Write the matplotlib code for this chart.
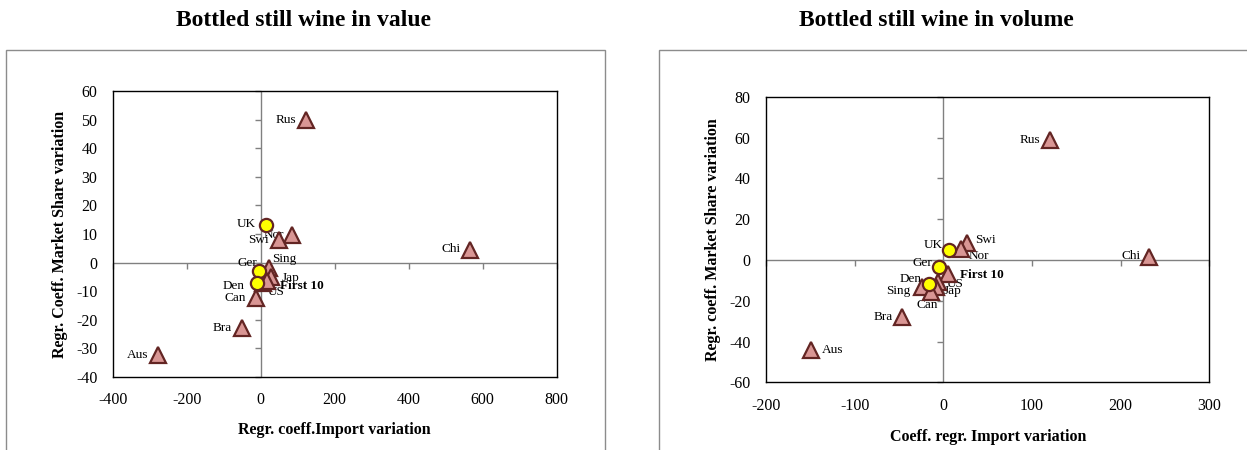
import matplotlib
matplotlib.use("Agg")
import matplotlib.pyplot as plt
import matplotlib.markers as mmarkers
from matplotlib.patches import Rectangle
import numpy as np

plt.rcParams['font.family'] = ['Liberation Serif', 'DejaVu Serif']
plt.rcParams['axes.unicode_minus'] = False

# ---------------- data ----------------
value_countries = ["Rus", "UK", "Nor", "Swi", "Chi", "Sing", "Ger", "Jap",
                   "First 10", "Den", "US", "Can", "Bra", "Aus"]
value_x = [122, 13, 85, 50, 565, 23, -5, 29, 6, -10, 17, -12, -50, -278]
value_y = [50, 13, 9.5, 8, 4.5, -2.0, -2.8, -5.2, -7.0, -7.3, -6.3, -12.3, -23, -32.3]

volume_countries = ["Rus", "Chi", "Swi", "Nor", "UK", "Ger", "First 10", "Den",
                    "US", "Sing", "Jap", "Can", "Bra", "Aus"]
volume_x = [120, 232, 27, 19.5, 6, -4.5, 5, -15.7, -5.5, -24.5, -8, -14, -46.6, -149.6]
volume_y = [59, 1.3, 8.3, 5.4, 4.9, -3.7, -6.8, -12.0, -10.8, -13.4, -13.2, -15.5, -27.8, -44.4]

circle_countries = {"UK", "Ger", "Den"}

value_xticks = [-400, -200, 0, 200, 400, 600, 800]
value_yticks = [-40, -30, -20, -10, 0, 10, 20, 30, 40, 50, 60]
volume_xticks = [-200, -100, 0, 100, 200, 300]
volume_yticks = [-60, -40, -20, 0, 20, 40, 60, 80]

# label offsets in pixels (dx, dy, ha)
value_label_pos = {
    "Rus": (-10, 0, "right"), "UK": (-10, 1, "right"), "Nor": (-8, 0, "right"),
    "Swi": (-10, 0, "right"), "Chi": (-9, 1, "right"), "Sing": (3, 9, "left"),
    "Ger": (-2, 8, "right"), "Jap": (10, -1, "left"), "First 10": (17, -3, "left"),
    "Den": (-12, -3, "right"), "US": (1, -11, "left"), "Can": (-10, 0, "right"),
    "Bra": (-10, 0, "right"), "Aus": (-9, 0, "right"),
}
volume_label_pos = {
    "Rus": (-9, 0, "right"), "Chi": (-8, 1, "right"), "Swi": (8, 3, "left"),
    "Nor": (8, -7, "left"), "UK": (-6, 5, "right"), "Ger": (-7, 4, "right"),
    "First 10": (12, -1, "left"), "Den": (-8, 5, "right"), "US": (8, -2, "left"),
    "Sing": (-11, -4, "right"), "Jap": (8, -4, "left"), "Can": (-4, -13, "center"),
    "Bra": (-9, 0, "right"), "Aus": (11, 0, "left"),
}

W, H = 1247, 450
fig = plt.figure(figsize=(W / 100, H / 100), dpi=100)

TRI_FACE = "#D99694"
EDGE = "#632523"
CIRC_FACE = "#FFFF00"
GRID = "#808080"


def px_rect(x0, y0, x1, y1):
    return [x0 / W, 1 - y1 / H, (x1 - x0) / W, (y1 - y0) / H]


# outer panel boxes
for (bx0, bx1) in [(6, 605), (659, 1262)]:
    fig.patches.append(Rectangle((bx0 / W, -0.05), (bx1 - bx0) / W, 1.05 - 50 / H,
                                 transform=fig.transFigure, fill=False,
                                 edgecolor="#8c8c8c", lw=1.0, clip_on=False))


def draw_panel(rect, countries, xs, ys, xticks, yticks, label_pos):
    ax = fig.add_axes(rect)
    ax.set_xlim(xticks[0], xticks[-1])
    ax.set_ylim(yticks[0], yticks[-1])
    ax.set_xticks(xticks)
    ax.set_yticks(yticks)
    ax.tick_params(axis="both", length=0, labelsize=11.5, colors="black")
    ax.tick_params(axis="x", pad=11)
    ax.tick_params(axis="y", pad=11)
    for s in ax.spines.values():
        s.set_color("black")
        s.set_linewidth(1.0)
    ax.axhline(0, color=GRID, lw=1, zorder=1)
    ax.axvline(0, color=GRID, lw=1, zorder=1)
    ax.plot(np.zeros(len(yticks)), yticks, linestyle="none",
            marker=mmarkers.TICKLEFT, markersize=4, color=GRID, mew=1,
            clip_on=False, zorder=1)
    ax.plot(xticks, np.zeros(len(xticks)), linestyle="none",
            marker=mmarkers.TICKDOWN, markersize=4, color=GRID, mew=1,
            clip_on=False, zorder=1)
    for c, x, y in zip(countries, xs, ys):
        if c in circle_countries:
            ax.plot(x, y, marker="o", markersize=9.5, markerfacecolor=CIRC_FACE,
                    markeredgecolor=EDGE, markeredgewidth=1.6, zorder=6)
        else:
            ax.plot(x, y, marker="^", markersize=11, markerfacecolor=TRI_FACE,
                    markeredgecolor=EDGE, markeredgewidth=1.6, zorder=5)
        dx, dy, ha = label_pos[c]
        ax.annotate(c, (x, y), xytext=(dx, dy), textcoords="offset pixels",
                    ha=ha, va="center", fontsize=9.5,
                    fontweight="bold" if c == "First 10" else "normal",
                    zorder=4)
    return ax


ax1 = draw_panel(px_rect(112.7, 91, 556.7, 377), value_countries, value_x, value_y,
                 value_xticks, value_yticks, value_label_pos)
ax2 = draw_panel(px_rect(766, 96.7, 1209.3, 382.3), volume_countries, volume_x, volume_y,
                 volume_xticks, volume_yticks, volume_label_pos)

# titles
fig.text(304 / W, 1 - 20 / H, "Bottled still wine in value", ha="center", va="center",
         fontsize=17, fontweight="bold")
fig.text(936 / W, 1 - 20 / H, "Bottled still wine in volume", ha="center", va="center",
         fontsize=17, fontweight="bold")

# axis labels
fig.text(334 / W, 1 - 430 / H, "Regr. coeff.Import variation", ha="center", va="center",
         fontsize=11.5, fontweight="bold")
fig.text(988 / W, 1 - 437 / H, "Coeff. regr. Import variation", ha="center", va="center",
         fontsize=11.5, fontweight="bold")
fig.text(60 / W, 1 - 234 / H, "Regr. Coeff. Market Share variation", ha="center",
         va="center", rotation=90, fontsize=11.5, fontweight="bold")
fig.text(713 / W, 1 - 240 / H, "Regr. coeff. Market Share variation", ha="center",
         va="center", rotation=90, fontsize=11.5, fontweight="bold")

fig.savefig("out.png", dpi=100)
